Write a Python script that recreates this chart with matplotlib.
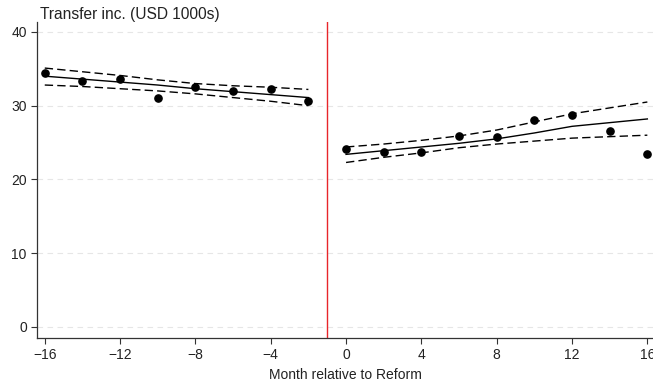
import numpy as np
import matplotlib.pyplot as plt

plt.rcParams['font.family'] = ['Liberation Sans', 'DejaVu Sans']

# binned means
months_pre = [-16, -14, -12, -10, -8, -6, -4, -2]
means_pre = [34.4, 33.3, 33.6, 31.0, 32.6, 32.0, 32.2, 30.6]
months_post = [0, 2, 4, 6, 8, 10, 12, 14, 16]
means_post = [24.1, 23.7, 23.7, 25.9, 25.8, 28.1, 28.7, 26.6, 23.5]

# fitted lines and confidence bands
fit_pre = [34.0, 33.6, 33.2, 32.8, 32.3, 31.9, 31.5, 31.1]
hi_pre = [35.1, 34.6, 34.1, 33.5, 33.0, 32.7, 32.5, 32.2]
lo_pre = [32.8, 32.6, 32.3, 32.0, 31.6, 31.1, 30.6, 30.0]
fit_post = [23.4, 23.9, 24.4, 24.9, 25.5, 26.3, 27.2, 27.7, 28.2]
hi_post = [24.4, 24.8, 25.3, 25.9, 26.7, 27.8, 28.9, 29.7, 30.5]
lo_post = [22.3, 23.0, 23.6, 24.3, 24.8, 25.2, 25.6, 25.8, 26.0]

fig = plt.figure(figsize=(6.53, 3.85), dpi=100)
ax = fig.add_axes([0.057, 0.122, 0.943, 0.82])

for y in [0, 10, 20, 30, 40]:
    ax.axhline(y, color='#e6e6e6', lw=0.8, ls=(0, (5, 4)), zorder=0)

ax.axvline(-1, color='#e8252a', lw=1.0, zorder=1)

for m, fit, hi, lo, pts in [(months_pre, fit_pre, hi_pre, lo_pre, means_pre),
                            (months_post, fit_post, hi_post, lo_post, means_post)]:
    ax.plot(m, fit, color='black', lw=1.0, zorder=2)
    ax.plot(m, hi, color='black', lw=1.0, ls=(0, (6, 3)), zorder=2)
    ax.plot(m, lo, color='black', lw=1.0, ls=(0, (6, 3)), zorder=2)
    ax.plot(m, pts, 'o', color='black', ms=5.2, zorder=3)

ax.set_xlim(-16.4, 16.3)
ax.set_ylim(-1.5, 41.3)
ax.set_xticks(np.arange(-16, 17, 4))
ax.set_yticks([0, 10, 20, 30, 40])
ax.tick_params(labelsize=10, length=4, width=0.8, color='#333333', labelcolor='#222222')
for s in ['top', 'right']:
    ax.spines[s].set_visible(False)
for s in ['left', 'bottom']:
    ax.spines[s].set_color('#333333')
    ax.spines[s].set_linewidth(0.9)

ax.set_xlabel('Month relative to Reform', fontsize=10, color='#222222', labelpad=4)
fig.text(0.061, 0.983, 'Transfer inc. (USD 1000s)', fontsize=11.2, color='#222222',
         ha='left', va='top')

fig.savefig('out.png', dpi=100)
